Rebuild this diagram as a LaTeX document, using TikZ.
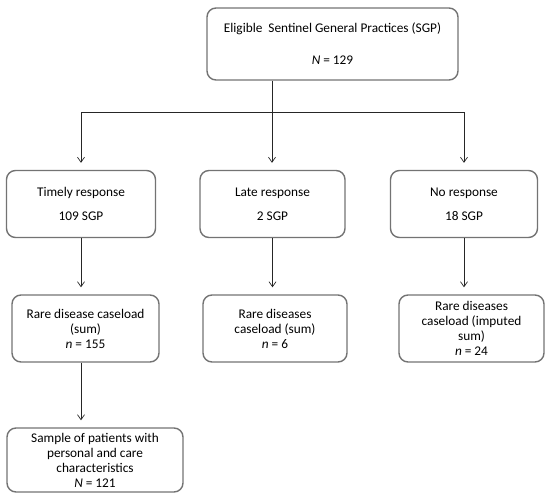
\documentclass[tikz,border=0pt]{standalone}
\usepackage{fontspec}
\setmainfont{Carlito}
\usetikzlibrary{positioning,arrows.meta}
\tikzset{box/.style={draw=black!55,line width=1.4pt,rounded corners=9pt,align=center,inner sep=0pt,font=\fontsize{13.3}{15}\selectfont}}
\tikzset{link/.style={-{Straight Barb[length=5pt,width=7pt]},black!85,line width=0.7pt,shorten >=7pt}}
\tikzset{plain/.style={black!85,line width=0.7pt}}

\begin{document}
\begin{tikzpicture}[x=1pt,y=-1pt]
  \useasboundingbox (0,0) rectangle (550,497);
  % practices
  \node[box,minimum width=251pt,minimum height=72pt] (sgp) at (332.5,44)
    {Eligible\ \ Sentinel General Practices (SGP)\\[17pt]\textit{N} = 129};
  % responses
  \node[box,minimum width=149pt,minimum height=67pt] (timely) at (81,204)
    {Timely response\\[9pt]109 SGP};
  \node[box,minimum width=145pt,minimum height=67pt] (late) at (272.5,204)
    {Late response\\[9pt]2 SGP};
  \node[box,minimum width=147pt,minimum height=67pt] (none) at (464,204)
    {No response\\[9pt]18 SGP};
  % caseloads
  \node[box,minimum width=147pt,minimum height=67pt] (sumtimely) at (85.5,328.5)
    {Rare disease caseload\\(sum)\\\textit{n} = 155};
  \node[box,minimum width=144pt,minimum height=67pt] (sumlate) at (275,328.5)
    {Rare diseases\\caseload (sum)\\\textit{n} = 6};
  \node[box,minimum width=145pt,minimum height=67pt] (sumnone) at (471.5,328.5)
    {Rare diseases\\caseload (imputed\\sum)\\\textit{n} = 24};
  % sample
  \node[box,minimum width=176pt,minimum height=64pt] (sample) at (95,460)
    {Sample of patients with\\personal and care\\characteristics\\\textit{N} = 121};

  \coordinate (fork) at (272,112);
  \draw[plain] (sgp.south -| fork) -- (fork);
  \draw[link] (fork) -| (timely.north);
  \draw[link] (fork) -- (fork |- late.north);
  \draw[link] (fork) -| (none.north);

  \draw[link] (timely.south) -- (timely.south |- sumtimely.north);
  \draw[link] (late.south) -- (late.south |- sumlate.north);
  \draw[link] (none.south) -- (none.south |- sumnone.north);
  \draw[link] (sumtimely.south -| timely) -- (timely |- sample.north);
\end{tikzpicture}
\end{document}
